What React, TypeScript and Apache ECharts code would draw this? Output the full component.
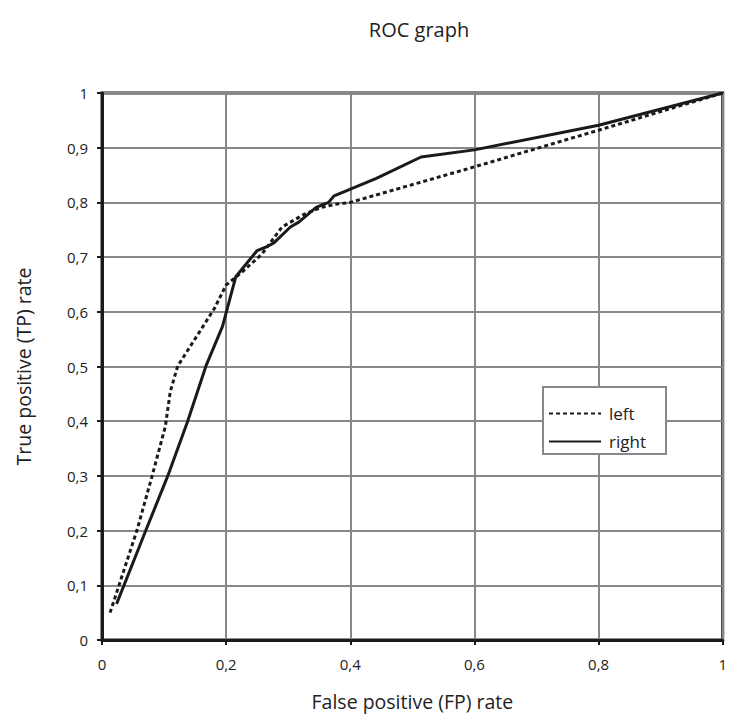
import React, { useEffect, useRef } from "react";
import * as echarts from "echarts";

const leftX = [0.013, 0.057, 0.08, 0.102, 0.11, 0.122, 0.162, 0.181, 0.2, 0.226, 0.258, 0.29, 0.327, 0.354, 0.378, 0.4, 0.6, 0.8, 1];
const leftY = [0.05, 0.203, 0.297, 0.39, 0.454, 0.501, 0.572, 0.606, 0.649, 0.673, 0.706, 0.755, 0.779, 0.791, 0.797, 0.8, 0.865, 0.932, 1];

const rightX = [0.0235, 0.0715, 0.106, 0.138, 0.1675, 0.194, 0.2155, 0.25, 0.2635, 0.277, 0.3035, 0.317, 0.345, 0.365, 0.374, 0.442, 0.514, 0.6, 0.8, 1];
const rightY = [0.066, 0.203, 0.3, 0.4, 0.501, 0.573, 0.664, 0.712, 0.718, 0.726, 0.755, 0.764, 0.791, 0.8, 0.812, 0.844, 0.883, 0.896, 0.941, 1];

const seriesNames = ["left", "right"];
const titleText = "ROC graph";
const xName = "False positive (FP) rate";
const yName = "True positive (TP) rate";

const FONT = "'Open Sans', sans-serif";
const fmt = (v: number) => String(Math.round(v * 10) / 10).replace(".", ",");

export default function App() {
  const ref = useRef<HTMLDivElement>(null);
  useEffect(() => {
    if (!ref.current) return;
    const chart = echarts.init(ref.current, undefined, { renderer: "svg" });
    const pair = (xs: number[], ys: number[]) => xs.map((x, i) => [x, ys[i]]);
    chart.setOption({
      animation: false,
      backgroundColor: "#fff",
      textStyle: { fontFamily: FONT },
      title: {
        text: titleText,
        left: 414,
        top: 14,
        textAlign: "center",
        textStyle: { fontFamily: FONT, fontSize: 20, fontWeight: "normal", color: "#222" },
      },
      grid: {
        left: 102,
        right: 3,
        top: 93,
        bottom: 73,
        show: true,
        borderColor: "#1a1a1a",
        borderWidth: 3,
        backgroundColor: "transparent",
      },
      xAxis: {
        type: "value",
        min: 0,
        max: 1,
        interval: 0.2,
        name: xName,
        nameLocation: "middle",
        nameGap: 51,
        nameTextStyle: { fontFamily: FONT, fontSize: 19.5, color: "#222" },
        axisLine: { show: true, lineStyle: { color: "#1a1a1a", width: 3 } },
        axisTick: { show: true, length: 5, lineStyle: { color: "#1a1a1a", width: 2 } },
        axisLabel: { formatter: fmt, margin: 16, fontFamily: FONT, fontSize: 15, color: "#222" },
        splitLine: { show: true, lineStyle: { color: "#888", width: 2 } },
      },
      yAxis: {
        type: "value",
        min: 0,
        max: 1,
        interval: 0.1,
        name: yName,
        nameLocation: "middle",
        nameRotate: 90,
        nameGap: 69,
        nameTextStyle: { fontFamily: FONT, fontSize: 19.5, color: "#222" },
        axisLine: { show: true, lineStyle: { color: "#1a1a1a", width: 3 } },
        axisTick: { show: true, length: 5, lineStyle: { color: "#1a1a1a", width: 2 } },
        axisLabel: { formatter: fmt, margin: 14, fontFamily: FONT, fontSize: 15, color: "#222" },
        splitLine: { show: true, lineStyle: { color: "#888", width: 2 } },
      },
      graphic: [
        {
          type: "rect",
          z: 3,
          shape: { x: 543, y: 387, width: 123, height: 67 },
          style: { fill: "#fff", stroke: "#888", lineWidth: 2 },
        },
      ],
      legend: {
        show: true,
        orient: "vertical",
        left: 543,
        top: 387,
        padding: [18, 10, 10, 5],
        itemWidth: 52,
        itemHeight: 14,
        itemGap: 11,
        z: 5,
        data: seriesNames,
        itemStyle: { opacity: 0 },
        textStyle: { fontFamily: FONT, fontSize: 17, color: "#222", padding: [0, 0, 0, 3] },
      },
      series: [
        {
          name: seriesNames[0],
          type: "line",
          data: pair(leftX, leftY),
          showSymbol: false,
          symbol: "none",
          lineStyle: { color: "#1a1a1a", width: 3, type: [4, 3] },
          itemStyle: { color: "#1a1a1a" },
          z: 2,
        },
        {
          name: seriesNames[1],
          type: "line",
          data: pair(rightX, rightY),
          showSymbol: false,
          symbol: "none",
          lineStyle: { color: "#1a1a1a", width: 3 },
          itemStyle: { color: "#1a1a1a" },
          z: 2,
        },
      ],
    });
    return () => chart.dispose();
  }, []);
  return <div ref={ref} style={{ width: 730, height: 716, position: "absolute", left: 0, top: 0 }} />;
}
